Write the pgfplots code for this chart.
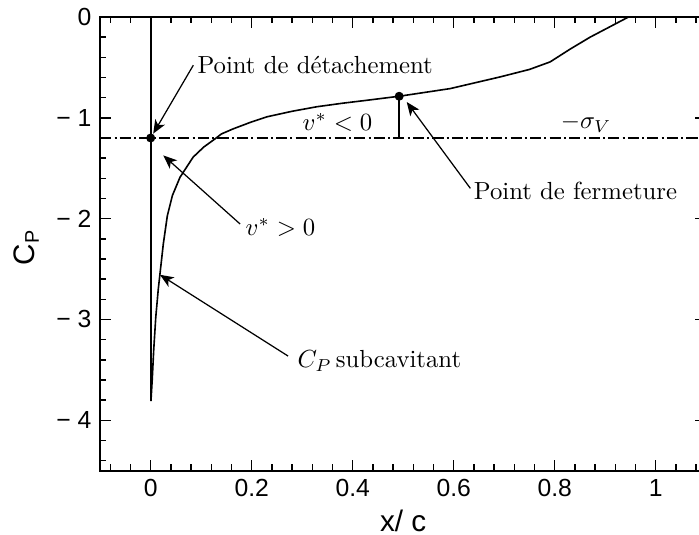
\documentclass[border=0pt]{standalone}
\usepackage{fontspec}
\usepackage{pgfplots}
\pgfplotsset{compat=1.18}
\usetikzlibrary{arrows.meta}
\newfontfamily\hv{Liberation Sans}

\begin{document}
\begin{tikzpicture}[
  ann/.style={-{Stealth[length=5.5pt,width=4.5pt,inset=1.5pt]}, line width=0.5pt},
  txt/.style={inner sep=0pt, anchor=base west}]
\begin{axis}[
  width=245pt, height=183.4pt, scale only axis,
  xmin=-0.1, xmax=1.1, ymin=-4.5, ymax=0,
  xtick={0,0.2,0.4,0.6,0.8,1}, xticklabels={0,0.2,0.4,0.6,0.8,1},
  ytick={-4,-3,-2,-1,0}, yticklabels={−~4,−~3,−~2,−~1,0},
  minor xtick={-0.08,-0.04,0.04,0.08,0.12,0.16,0.24,0.28,0.32,0.36,0.44,0.48,0.52,0.56,
    0.64,0.68,0.72,0.76,0.84,0.88,0.92,0.96,1.04,1.08},
  minor ytick={-4.4,-4.2,-3.8,-3.6,-3.4,-3.2,-2.8,-2.6,-2.4,-2.2,-1.8,-1.6,-1.4,-1.2,
    -0.8,-0.6,-0.4,-0.2},
  tick align=inside,
  major tick length=4.5pt, minor tick length=2.5pt,
  every tick/.style={black, line width=0.6pt},
  axis line style={line width=0.8pt},
  tick label style={font=\hv\fontsize{10}{12}\selectfont},
  label style={font=\hv\fontsize{12}{14}\selectfont},
  xlabel={x/ c}, ylabel={C\textsubscript{P}},
  xlabel style={at={(axis description cs:0.5,-0.11)}, anchor=center},
  ylabel style={at={(axis description cs:-0.122,0.492)}, anchor=center},
]
% C_P curve
\addplot[black, line width=0.65pt] coordinates {
  (0.0005,-3.81) (0.003,-3.6) (0.006,-3.3) (0.010,-2.98) (0.015,-2.70)
  (0.019,-2.52) (0.025,-2.25) (0.033,-1.97) (0.043,-1.77) (0.058,-1.59)
  (0.084,-1.39) (0.105,-1.29) (0.127,-1.21) (0.14,-1.16) (0.163,-1.11)
  (0.2,-1.04) (0.23,-0.99) (0.28,-0.935) (0.329,-0.89) (0.38,-0.855)
  (0.428,-0.826) (0.492,-0.786) (0.593,-0.71) (0.692,-0.594) (0.75,-0.52)
  (0.791,-0.445) (0.83,-0.32) (0.87,-0.2) (0.946,0) (0.97,0.06)
};
% cavity line at x = 0
\addplot[black, line width=0.65pt] coordinates {(0,0.1) (0,-3.81)};
% -sigma_V
\addplot[black, line width=0.5pt, dash pattern=on 4.5pt off 1.3pt on 0.8pt off 1.3pt]
  coordinates {(-0.1,-1.2) (1.1,-1.2)};
\addplot[black, line width=0.6pt] coordinates {(0.492,-0.786) (0.492,-1.2)};
\addplot[only marks, mark=*, mark size=1.6pt, black] coordinates {(0,-1.2) (0.492,-0.786)};

% annotations
\draw[ann] (axis cs:0.0844,-0.478) -- (axis cs:0.005,-1.157);
\node[txt] at (axis cs:0.0917,-0.557) {Point de détachement};
\draw[ann] (axis cs:0.177,-2.053) -- (axis cs:0.025,-1.373);
\node[txt] at (axis cs:0.187,-2.169) {$v^* > 0$};
\draw[ann] (axis cs:0.272,-3.363) -- (axis cs:0.0184,-2.557);
\node[txt] at (axis cs:0.290,-3.48) {$C_P\,$subcavitant};
\draw[ann] (axis cs:0.633,-1.70) -- (axis cs:0.507,-0.843);
\node[txt] at (axis cs:0.639,-1.811) {Point de fermeture};
\node[txt] at (axis cs:0.30,-1.124) {$v^* < 0$};
\node[txt] at (axis cs:0.811,-1.108) {$-\sigma_V$};

\coordinate (bbSW) at (axis cs:-0.2984,-5.134);
\coordinate (bbNE) at (axis cs:1.0857,0.169);
\end{axis}
\pgfresetboundingbox
\useasboundingbox (bbSW) rectangle (bbNE);
\end{tikzpicture}
\end{document}
